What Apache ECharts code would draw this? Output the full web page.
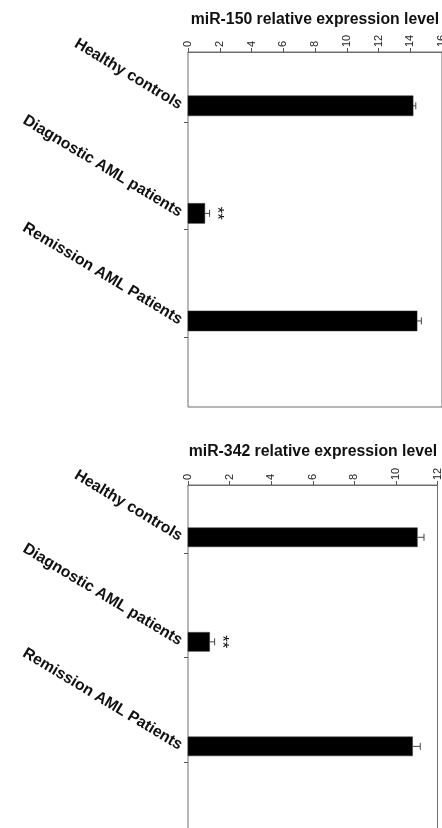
<!DOCTYPE html>
<html>
<head>
<meta charset="utf-8">
<script src="https://cdn.jsdelivr.net/npm/echarts@6/dist/echarts.min.js"></script>
<style>
  html, body { margin: 0; padding: 0; background: #fff; }
  #chart { width: 442px; height: 828px; }
</style>
</head>
<body>
<div id="chart"></div>
<script>
// Groups, shared by both panels
const categories = ['Healthy controls', 'Diagnostic AML patients', 'Remission AML Patients'];

// miR-150 relative expression (mean, error)
const mir150Values = [14.18, 1.06, 14.43];
const mir150Errors = [0.17, 0.3, 0.27];
const mir150Marks = ['', '**', ''];
const mir150Ticks = [0, 2, 4, 6, 8, 10, 12, 14, 16];

// miR-342 relative expression (mean, error)
const mir342Values = [11.03, 1.04, 10.8];
const mir342Errors = [0.32, 0.24, 0.37];
const mir342Marks = ['', '**', ''];
const mir342Ticks = [0, 2, 4, 6, 8, 10, 12];

const FONT = '"Liberation Sans", Arial, Helvetica, sans-serif';
const FRAME = '#6e6e6e';

function panelData(values, errors) {
  return values.map((v, i) => [v, i, errors[i]]);
}

// Bar + one-sided error bar + significance mark, placed through the grid's scales
function renderBar(params, api, marks, barH) {
  const v = api.value(0), idx = api.value(1), err = api.value(2);
  const mark = marks[params.dataIndex];
  const p0 = api.coord([0, idx]);
  const p1 = api.coord([v, idx]);
  const pe = api.coord([v + err, idx]);
  const h = barH;
  const children = [
    { type: 'rect', shape: { x: p0[0], y: p0[1] - h / 2, width: p1[0] - p0[0], height: h },
      style: { fill: '#000', stroke: '#333', lineWidth: 0.5 } },
    { type: 'line', shape: { x1: p1[0], y1: p1[1], x2: pe[0], y2: pe[1] },
      style: { stroke: '#444', lineWidth: 1 } },
    { type: 'line', shape: { x1: pe[0], y1: pe[1] - 3.5, x2: pe[0], y2: pe[1] + 3.5 },
      style: { stroke: '#444', lineWidth: 1 } }
  ];
  if (mark) {
    children.push({
      type: 'text', x: pe[0] + 7, y: pe[1], rotation: -Math.PI / 2,
      style: { text: mark, font: '17px ' + FONT, fill: '#111', align: 'center', verticalAlign: 'middle' }
    });
  }
  return { type: 'group', children };
}

function makePanel(i, grid, title, titleLeft, titleTop, ticks, values, errors, marks, barH) {
  const max = ticks[ticks.length - 1];
  return {
    grid: Object.assign({
      show: true, borderColor: FRAME, borderWidth: 1, backgroundColor: 'transparent',
      outerBoundsMode: 'none', containLabel: false
    }, grid),
    title: {
      text: title, left: titleLeft, top: titleTop, textAlign: 'center',
      textStyle: { fontFamily: FONT, fontWeight: 'bold', fontSize: 15.8, color: '#111' }
    },
    xAxis: {
      type: 'value', gridIndex: i, position: 'top', min: 0, max: max, interval: ticks[1] - ticks[0],
      axisLine: { show: true, onZero: false, lineStyle: { color: FRAME, width: 1 } },
      axisTick: { show: true, length: 4, lineStyle: { color: '#555' } },
      splitLine: { show: false },
      axisLabel: {
        rotate: -90, margin: 5, fontFamily: FONT, fontSize: 11, color: '#222',
        formatter: v => ticks.includes(v) ? String(v) : ''
      }
    },
    yAxis: {
      type: 'value', gridIndex: i, inverse: true, min: -0.5, max: 2.8,
      axisLine: { show: false, onZero: false },
      splitLine: { show: false },
      axisTick: {
        show: true, length: 4, customValues: categories.map((c, k) => k + 0.15),
        lineStyle: { color: '#555' }
      },
      axisLabel: {
        customValues: categories.map((c, k) => k),
        formatter: v => categories[Math.round(v)] || '',
        rotate: -31, margin: 7, fontFamily: FONT, fontWeight: 'bold', fontSize: 15.7, color: '#111'
      }
    },
    series: {
      type: 'custom', xAxisIndex: i, yAxisIndex: i, clip: false,
      renderItem: (params, api) => renderBar(params, api, marks, barH),
      encode: { x: 0, y: 1 },
      data: panelData(values, errors)
    }
  };
}

const panel150 = makePanel(0, { left: 188, top: 52, width: 254, height: 355 },
  'miR-150 relative expression level', 310, 7, mir150Ticks, mir150Values, mir150Errors, mir150Marks, 20);
const panel342 = makePanel(1, { left: 188, top: 485, width: 249.5, height: 345 },
  'miR-342 relative expression level', 308, 439, mir342Ticks, mir342Values, mir342Errors, mir342Marks, 19);

const chart = echarts.init(document.getElementById('chart'), null, { renderer: 'canvas' });
chart.setOption({
  animation: false,
  backgroundColor: '#fff',
  title: [panel150.title, panel342.title],
  grid: [panel150.grid, panel342.grid],
  xAxis: [panel150.xAxis, panel342.xAxis],
  yAxis: [panel150.yAxis, panel342.yAxis],
  series: [panel150.series, panel342.series]
});
</script>
</body>
</html>
